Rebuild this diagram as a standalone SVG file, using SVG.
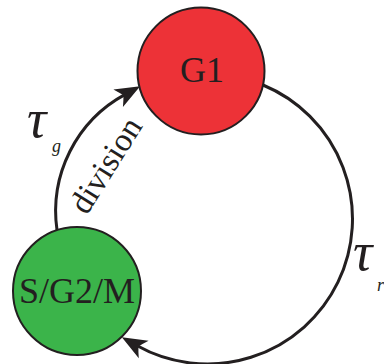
<svg xmlns="http://www.w3.org/2000/svg" width="384" height="364" viewBox="0 0 384 364">
  <defs>
    <style>
      .conn { fill: none; stroke: #231F20; stroke-width: 3; }
      .node { stroke: #231F20; stroke-width: 2; }
      .lbl { font-family: "Liberation Serif", "Times New Roman", serif; fill: #231F20; }
      .tau { font-family: "Liberation Serif", "Times New Roman", serif; font-style: italic; fill: #231F20; }
    </style>
    <marker id="arrow" viewBox="-26 -11 27 22" refX="-17" refY="0" markerWidth="27" markerHeight="22" markerUnits="userSpaceOnUse" orient="auto">
      <path d="M0,0 L-25,-10 Q-21,-4 -19,0 Q-21,4 -25,10 Z" fill="#231F20"/>
    </marker>
  </defs>
  <rect width="384" height="364" fill="#FFFFFF"/>
  <g id="connectors">
    <path id="edge-g1-sg2m" class="conn" d="M263,85 A145,145 0 1 1 136.7,345.5" marker-end="url(#arrow)"/>
    <path id="edge-sg2m-g1" class="conn" d="M57,230 A133,133 0 0 1 125.2,94.4" marker-end="url(#arrow)"/>
  </g>
  <g id="node-g1">
    <circle class="node" cx="201" cy="71" r="63.5" fill="#ED3237"/>
    <text class="lbl" x="202" y="82" font-size="36" text-anchor="middle">G1</text>
  </g>
  <g id="node-sg2m">
    <circle class="node" cx="77" cy="291" r="64" fill="#3BB44A"/>
    <text class="lbl" x="77" y="303" font-size="36" text-anchor="middle">S/G2/M</text>
  </g>
  <g id="label-division">
    <text class="lbl" font-size="33" text-anchor="middle" transform="translate(115,171) rotate(-58)">division</text>
  </g>
  <g id="label-tau-g">
    <text class="tau" font-size="54" x="27" y="137">τ<tspan font-size="18" x="52" y="152">g</tspan></text>
  </g>
  <g id="label-tau-r">
    <text class="tau" font-size="54" x="353" y="270">τ<tspan font-size="18" x="377" y="291">r</tspan></text>
  </g>
</svg>
